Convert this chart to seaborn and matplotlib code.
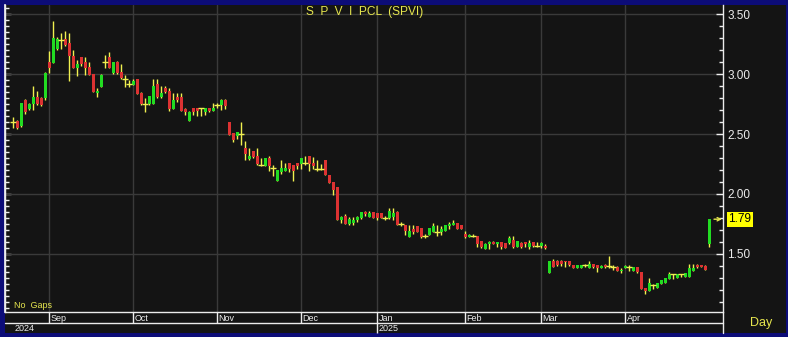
import matplotlib
matplotlib.use("Agg")
import matplotlib.pyplot as plt
import matplotlib.transforms as mtransforms
from matplotlib.ticker import MultipleLocator, FormatStrFormatter, FixedLocator
from matplotlib.lines import Line2D
from matplotlib.patches import Rectangle
import seaborn as sns
import numpy as np
import pandas as pd

# ---------------- data ----------------
opens = [2.60, 2.61, 2.57, 2.78, 2.71, 2.75, 2.81, 2.80, 2.80, 3.10,
         3.09, 3.21, 3.28, 3.29, 3.26, 3.15, 3.05, 3.14, 3.10, 3.06,
         3.00, 2.84, 2.89, 3.10, 3.14, 3.01, 3.10, 3.02, 2.96, 2.92,
         2.91, 2.96, 2.84, 2.75, 2.75, 2.75, 2.92, 2.81, 2.88, 2.86,
         2.71, 2.81, 2.81, 2.71, 2.61, 2.72, 2.72, 2.72, 2.68, 2.72,
         2.69, 2.74, 2.74, 2.78, 2.60, 2.51, 2.48, 2.50, 2.38, 2.29,
         2.36, 2.32, 2.24, 2.23, 2.30, 2.22, 2.11, 2.18, 2.19, 2.26,
         2.24, 2.26, 2.25, 2.26, 2.32, 2.26, 2.21, 2.21, 2.28, 2.16,
         2.10, 2.06, 1.78, 1.82, 1.75, 1.76, 1.78, 1.80, 1.85, 1.81,
         1.85, 1.84, 1.84, 1.80, 1.80, 1.81, 1.85, 1.75, 1.74, 1.64,
         1.71, 1.73, 1.72, 1.65, 1.66, 1.68, 1.68, 1.68, 1.69, 1.73,
         1.74, 1.76, 1.74, 1.67, 1.64, 1.65, 1.65, 1.61, 1.54, 1.58,
         1.60, 1.58, 1.60, 1.59, 1.59, 1.62, 1.56, 1.59, 1.60, 1.56,
         1.60, 1.57, 1.57, 1.57, 1.34, 1.44, 1.44, 1.44, 1.44, 1.44,
         1.41, 1.38, 1.38, 1.41, 1.38, 1.42, 1.41, 1.38, 1.41, 1.40,
         1.39, 1.39, 1.36, 1.38, 1.39, 1.36, 1.39, 1.35, 1.22, 1.19,
         1.24, 1.22, 1.25, 1.26, 1.29, 1.33, 1.30, 1.33, 1.31, 1.31,
         1.36, 1.41, 1.41, 1.40, 1.58]
highs = [2.64, 2.62, 2.76, 2.79, 2.76, 2.90, 2.86, 2.81, 3.02, 3.19,
         3.44, 3.31, 3.34, 3.36, 3.34, 3.20, 3.12, 3.14, 3.14, 3.10,
         3.00, 2.88, 3.00, 3.16, 3.18, 3.10, 3.11, 3.08, 2.99, 2.95,
         2.96, 2.96, 2.85, 2.80, 2.82, 2.96, 2.96, 2.90, 2.90, 2.88,
         2.84, 2.84, 2.84, 2.72, 2.69, 2.72, 2.72, 2.72, 2.72, 2.72,
         2.76, 2.76, 2.79, 2.79, 2.60, 2.51, 2.52, 2.60, 2.44, 2.38,
         2.36, 2.38, 2.30, 2.30, 2.32, 2.24, 2.20, 2.28, 2.26, 2.26,
         2.24, 2.26, 2.30, 2.32, 2.32, 2.31, 2.28, 2.25, 2.28, 2.16,
         2.10, 2.06, 1.82, 1.83, 1.81, 1.81, 1.82, 1.85, 1.86, 1.86,
         1.85, 1.84, 1.84, 1.82, 1.88, 1.88, 1.86, 1.77, 1.74, 1.74,
         1.74, 1.73, 1.72, 1.67, 1.72, 1.76, 1.74, 1.73, 1.74, 1.77,
         1.78, 1.76, 1.74, 1.69, 1.67, 1.67, 1.65, 1.61, 1.59, 1.61,
         1.61, 1.60, 1.60, 1.59, 1.65, 1.65, 1.61, 1.60, 1.60, 1.62,
         1.60, 1.60, 1.60, 1.58, 1.44, 1.46, 1.45, 1.45, 1.44, 1.44,
         1.41, 1.41, 1.41, 1.42, 1.44, 1.42, 1.41, 1.41, 1.42, 1.48,
         1.41, 1.40, 1.38, 1.41, 1.41, 1.39, 1.39, 1.35, 1.22, 1.30,
         1.25, 1.26, 1.28, 1.30, 1.35, 1.33, 1.33, 1.33, 1.34, 1.42,
         1.42, 1.42, 1.41, 1.41, 1.79]
lows = [2.55, 2.54, 2.56, 2.67, 2.70, 2.70, 2.74, 2.73, 2.78, 3.01,
        3.09, 3.20, 3.21, 3.23, 2.94, 3.05, 2.98, 3.07, 2.99, 2.99,
        2.85, 2.81, 2.89, 3.05, 3.05, 3.00, 3.00, 2.96, 2.89, 2.89,
        2.91, 2.83, 2.74, 2.68, 2.74, 2.75, 2.80, 2.80, 2.84, 2.69,
        2.71, 2.77, 2.69, 2.66, 2.61, 2.66, 2.65, 2.65, 2.66, 2.68,
        2.69, 2.72, 2.70, 2.71, 2.49, 2.43, 2.46, 2.41, 2.28, 2.28,
        2.30, 2.24, 2.23, 2.23, 2.19, 2.15, 2.11, 2.17, 2.19, 2.18,
        2.11, 2.21, 2.21, 2.24, 2.19, 2.21, 2.19, 2.20, 2.16, 2.09,
        1.99, 1.78, 1.76, 1.75, 1.74, 1.74, 1.77, 1.79, 1.82, 1.81,
        1.80, 1.78, 1.80, 1.78, 1.79, 1.78, 1.74, 1.73, 1.66, 1.64,
        1.67, 1.68, 1.63, 1.63, 1.66, 1.68, 1.65, 1.66, 1.69, 1.71,
        1.74, 1.71, 1.71, 1.63, 1.64, 1.64, 1.56, 1.55, 1.54, 1.54,
        1.58, 1.56, 1.54, 1.55, 1.58, 1.55, 1.56, 1.55, 1.56, 1.54,
        1.56, 1.56, 1.55, 1.54, 1.34, 1.39, 1.40, 1.40, 1.39, 1.40,
        1.38, 1.38, 1.38, 1.39, 1.38, 1.38, 1.35, 1.38, 1.38, 1.38,
        1.37, 1.36, 1.34, 1.38, 1.36, 1.36, 1.34, 1.21, 1.17, 1.19,
        1.21, 1.22, 1.25, 1.26, 1.29, 1.29, 1.30, 1.31, 1.31, 1.31,
        1.36, 1.38, 1.39, 1.37, 1.56]
closes = [2.60, 2.55, 2.76, 2.68, 2.75, 2.81, 2.75, 2.74, 3.01, 3.05,
          3.30, 3.29, 3.28, 3.24, 3.15, 3.05, 3.08, 3.08, 3.05, 2.99,
          2.85, 2.86, 2.99, 3.10, 3.05, 3.10, 3.01, 2.97, 2.96, 2.92,
          2.94, 2.83, 2.75, 2.75, 2.82, 2.90, 2.81, 2.84, 2.85, 2.71,
          2.78, 2.78, 2.69, 2.68, 2.68, 2.68, 2.69, 2.72, 2.72, 2.69,
          2.72, 2.74, 2.78, 2.73, 2.49, 2.45, 2.52, 2.50, 2.33, 2.32,
          2.31, 2.25, 2.24, 2.30, 2.23, 2.22, 2.20, 2.22, 2.22, 2.21,
          2.19, 2.23, 2.30, 2.26, 2.25, 2.23, 2.21, 2.21, 2.16, 2.09,
          2.03, 1.78, 1.81, 1.75, 1.79, 1.78, 1.81, 1.85, 1.83, 1.84,
          1.80, 1.80, 1.80, 1.80, 1.86, 1.84, 1.74, 1.75, 1.69, 1.69,
          1.68, 1.68, 1.64, 1.65, 1.72, 1.73, 1.68, 1.71, 1.74, 1.75,
          1.76, 1.71, 1.71, 1.64, 1.66, 1.65, 1.58, 1.56, 1.58, 1.60,
          1.58, 1.60, 1.56, 1.55, 1.63, 1.56, 1.61, 1.56, 1.58, 1.59,
          1.57, 1.57, 1.59, 1.55, 1.44, 1.39, 1.41, 1.42, 1.43, 1.41,
          1.38, 1.41, 1.41, 1.41, 1.42, 1.39, 1.38, 1.40, 1.39, 1.40,
          1.39, 1.36, 1.37, 1.40, 1.39, 1.39, 1.35, 1.21, 1.19, 1.26,
          1.24, 1.26, 1.28, 1.30, 1.33, 1.33, 1.33, 1.33, 1.34, 1.38,
          1.38, 1.39, 1.39, 1.37, 1.79]

month_labels = ["Sep", "Oct", "Nov", "Dec", "Jan", "Feb", "Mar", "Apr"]
month_start = [9, 30, 51, 72, 91, 113, 132, 153]   # bar index where month begins
year_labels = ["2024", "2025"]
year_start = [0, 91]
price_ticks = [1.50, 2.00, 2.50, 3.00, 3.50]
title_text = "S  P  V  I  PCL  (SPVI)"
left_note = "No  Gaps"
period_text = "Day"

# ---------------- style ----------------
NAVY = "#0c0c78"
BG = "#141414"
GRID = "#3a3a3a"
GREEN = "#22dc22"
RED = "#dc3232"
WICK = "#f0f050"
YTXT = "#e6e64e"
WHITE = "#ececec"

sns.set_theme(style="dark", rc={"axes.facecolor": BG, "figure.facecolor": NAVY,
                                "grid.color": GRID, "axes.edgecolor": WHITE})
plt.rcParams["font.family"] = ["Liberation Sans", "DejaVu Sans"]

W, H = 788, 337
def fx(px): return px / W
def fy(py): return 1 - py / H

fig = plt.figure(figsize=(W / 100, H / 100), dpi=100, facecolor=NAVY)
fig.patches.append(Rectangle((fx(5), fy(333)), fx(786) - fx(5), fy(5) - fy(333),
                             transform=fig.transFigure, facecolor=BG, edgecolor="none", zorder=-10))

ax = fig.add_axes([fx(5), fy(312), fx(723) - fx(5), fy(5) - fy(312)])
ax.set_facecolor(BG)

df = pd.DataFrame({"o": opens, "h": highs, "l": lows, "c": closes})
df["i"] = np.arange(len(df))
up = df[df.c > df.o]
dn = df[df.c < df.o]
flat = df[df.c == df.o]

ax.vlines(df.i, df.l, df.h, color=WICK, lw=1, zorder=2)
ax.bar(up.i, up.c - up.o, bottom=up.o, width=0.75, color=GREEN, linewidth=0, zorder=3)
ax.bar(dn.i, dn.o - dn.c, bottom=dn.c, width=0.75, color=RED, linewidth=0, zorder=3)
sns.scatterplot(x=flat.i, y=flat.c, marker="_", s=14, color=WICK, linewidth=1,
                ax=ax, legend=False, zorder=4)

x0 = (5 - 13.3) / 4
x1 = (723 - 13.3) / 4
ax.set_xlim(x0, x1)
ax.set_ylim(3.5 - (312 - 14) / 120, 3.5 - (5 - 14) / 120)
ax.set_xlabel("")
ax.set_ylabel("")

# grid
ax.xaxis.set_major_locator(FixedLocator(month_start))
ax.tick_params(axis="x", length=0, labelbottom=False)
ax.yaxis.set_major_locator(FixedLocator(price_ticks))
ax.yaxis.set_minor_locator(MultipleLocator(0.1))
ax.yaxis.set_major_formatter(FormatStrFormatter("%.2f"))
ax.grid(True, which="major", color=GRID, lw=1, zorder=0)
ax.set_axisbelow(True)

ax.yaxis.tick_right()
ax.tick_params(axis="y", which="major", direction="in", length=5, width=1, color=WHITE,
               labelcolor=WHITE, labelsize=8.5, pad=3, right=True, left=False)
ax.tick_params(axis="y", which="minor", direction="in", length=3, width=1, color=WHITE,
               right=True, left=False)
for s in ["top", "bottom"]:
    ax.spines[s].set_visible(False)
for s in ["left", "right"]:
    ax.spines[s].set_color(WHITE)
    ax.spines[s].set_linewidth(1)

sec = ax.secondary_yaxis("left")
sec.yaxis.set_major_locator(FixedLocator(price_ticks))
sec.yaxis.set_minor_locator(MultipleLocator(0.05))
sec.tick_params(axis="y", which="major", direction="in", length=4, width=1, color=WHITE, labelleft=False)
sec.tick_params(axis="y", which="minor", direction="in", length=3, width=1, color=WHITE)
sec.spines["left"].set_color(WHITE)

# month strip
axm = fig.add_axes([fx(5), fy(323), fx(723) - fx(5), fy(312) - fy(323)])
axm.set_xlim(x0, x1)
axm.set_ylim(0, 1)
axm.axis("off")
axm.axhline(1, color=WHITE, lw=1, clip_on=False)
axm.axhline(0, color=WHITE, lw=1, clip_on=False)
axm.vlines(month_start, 0, 1, color=WHITE, lw=1, clip_on=False)
for lab, st in zip(month_labels, month_start):
    axm.text(st + 0.35, 0.02, lab, color=WHITE, fontsize=6.5, ha="left", va="bottom")

# year strip
axy = fig.add_axes([fx(5), fy(333), fx(723) - fx(5), fy(323) - fy(333)])
axy.set_xlim(x0, x1)
axy.set_ylim(0, 1)
axy.axis("off")
for lab, st in zip(year_labels, year_start):
    if st > 0:
        axy.vlines(st, 0, 1, color=WHITE, lw=1, clip_on=False)
    axy.text(st + 0.2, 0.45, lab, color=WHITE, fontsize=6.5, ha="left", va="center")

# right axis line down to the bottom strip
fig.add_artist(Line2D([fx(723), fx(723)], [fy(312), fy(333)], color=WHITE, lw=1,
                      transform=fig.transFigure))

# texts
fig.text(fx(364.5), fy(12), title_text, color=YTXT, fontsize=8.6, ha="center", va="center")
fig.text(fx(14), fy(306), left_note, color=YTXT, fontsize=6.5, ha="left", va="center")
fig.text(fx(761), fy(323), period_text, color=YTXT, fontsize=9, ha="center", va="center")

# last price tag
bt = mtransforms.blended_transform_factory(fig.transFigure, ax.transData)
last = closes[-1]
ax.text(fx(740), last, f"{last:.2f}", transform=bt, color="black", fontsize=8.5,
        ha="center", va="center", clip_on=False,
        bbox=dict(boxstyle="square,pad=0.12", fc="#ffff00", ec="none"))
ax.annotate("", xy=(fx(722), last), xytext=(fx(714), last),
            xycoords=bt, textcoords=bt, annotation_clip=False,
            arrowprops=dict(arrowstyle="->", color=YTXT, lw=1, mutation_scale=6,
                            shrinkA=0, shrinkB=0))

fig.savefig("out.png", dpi=100, facecolor=NAVY)
